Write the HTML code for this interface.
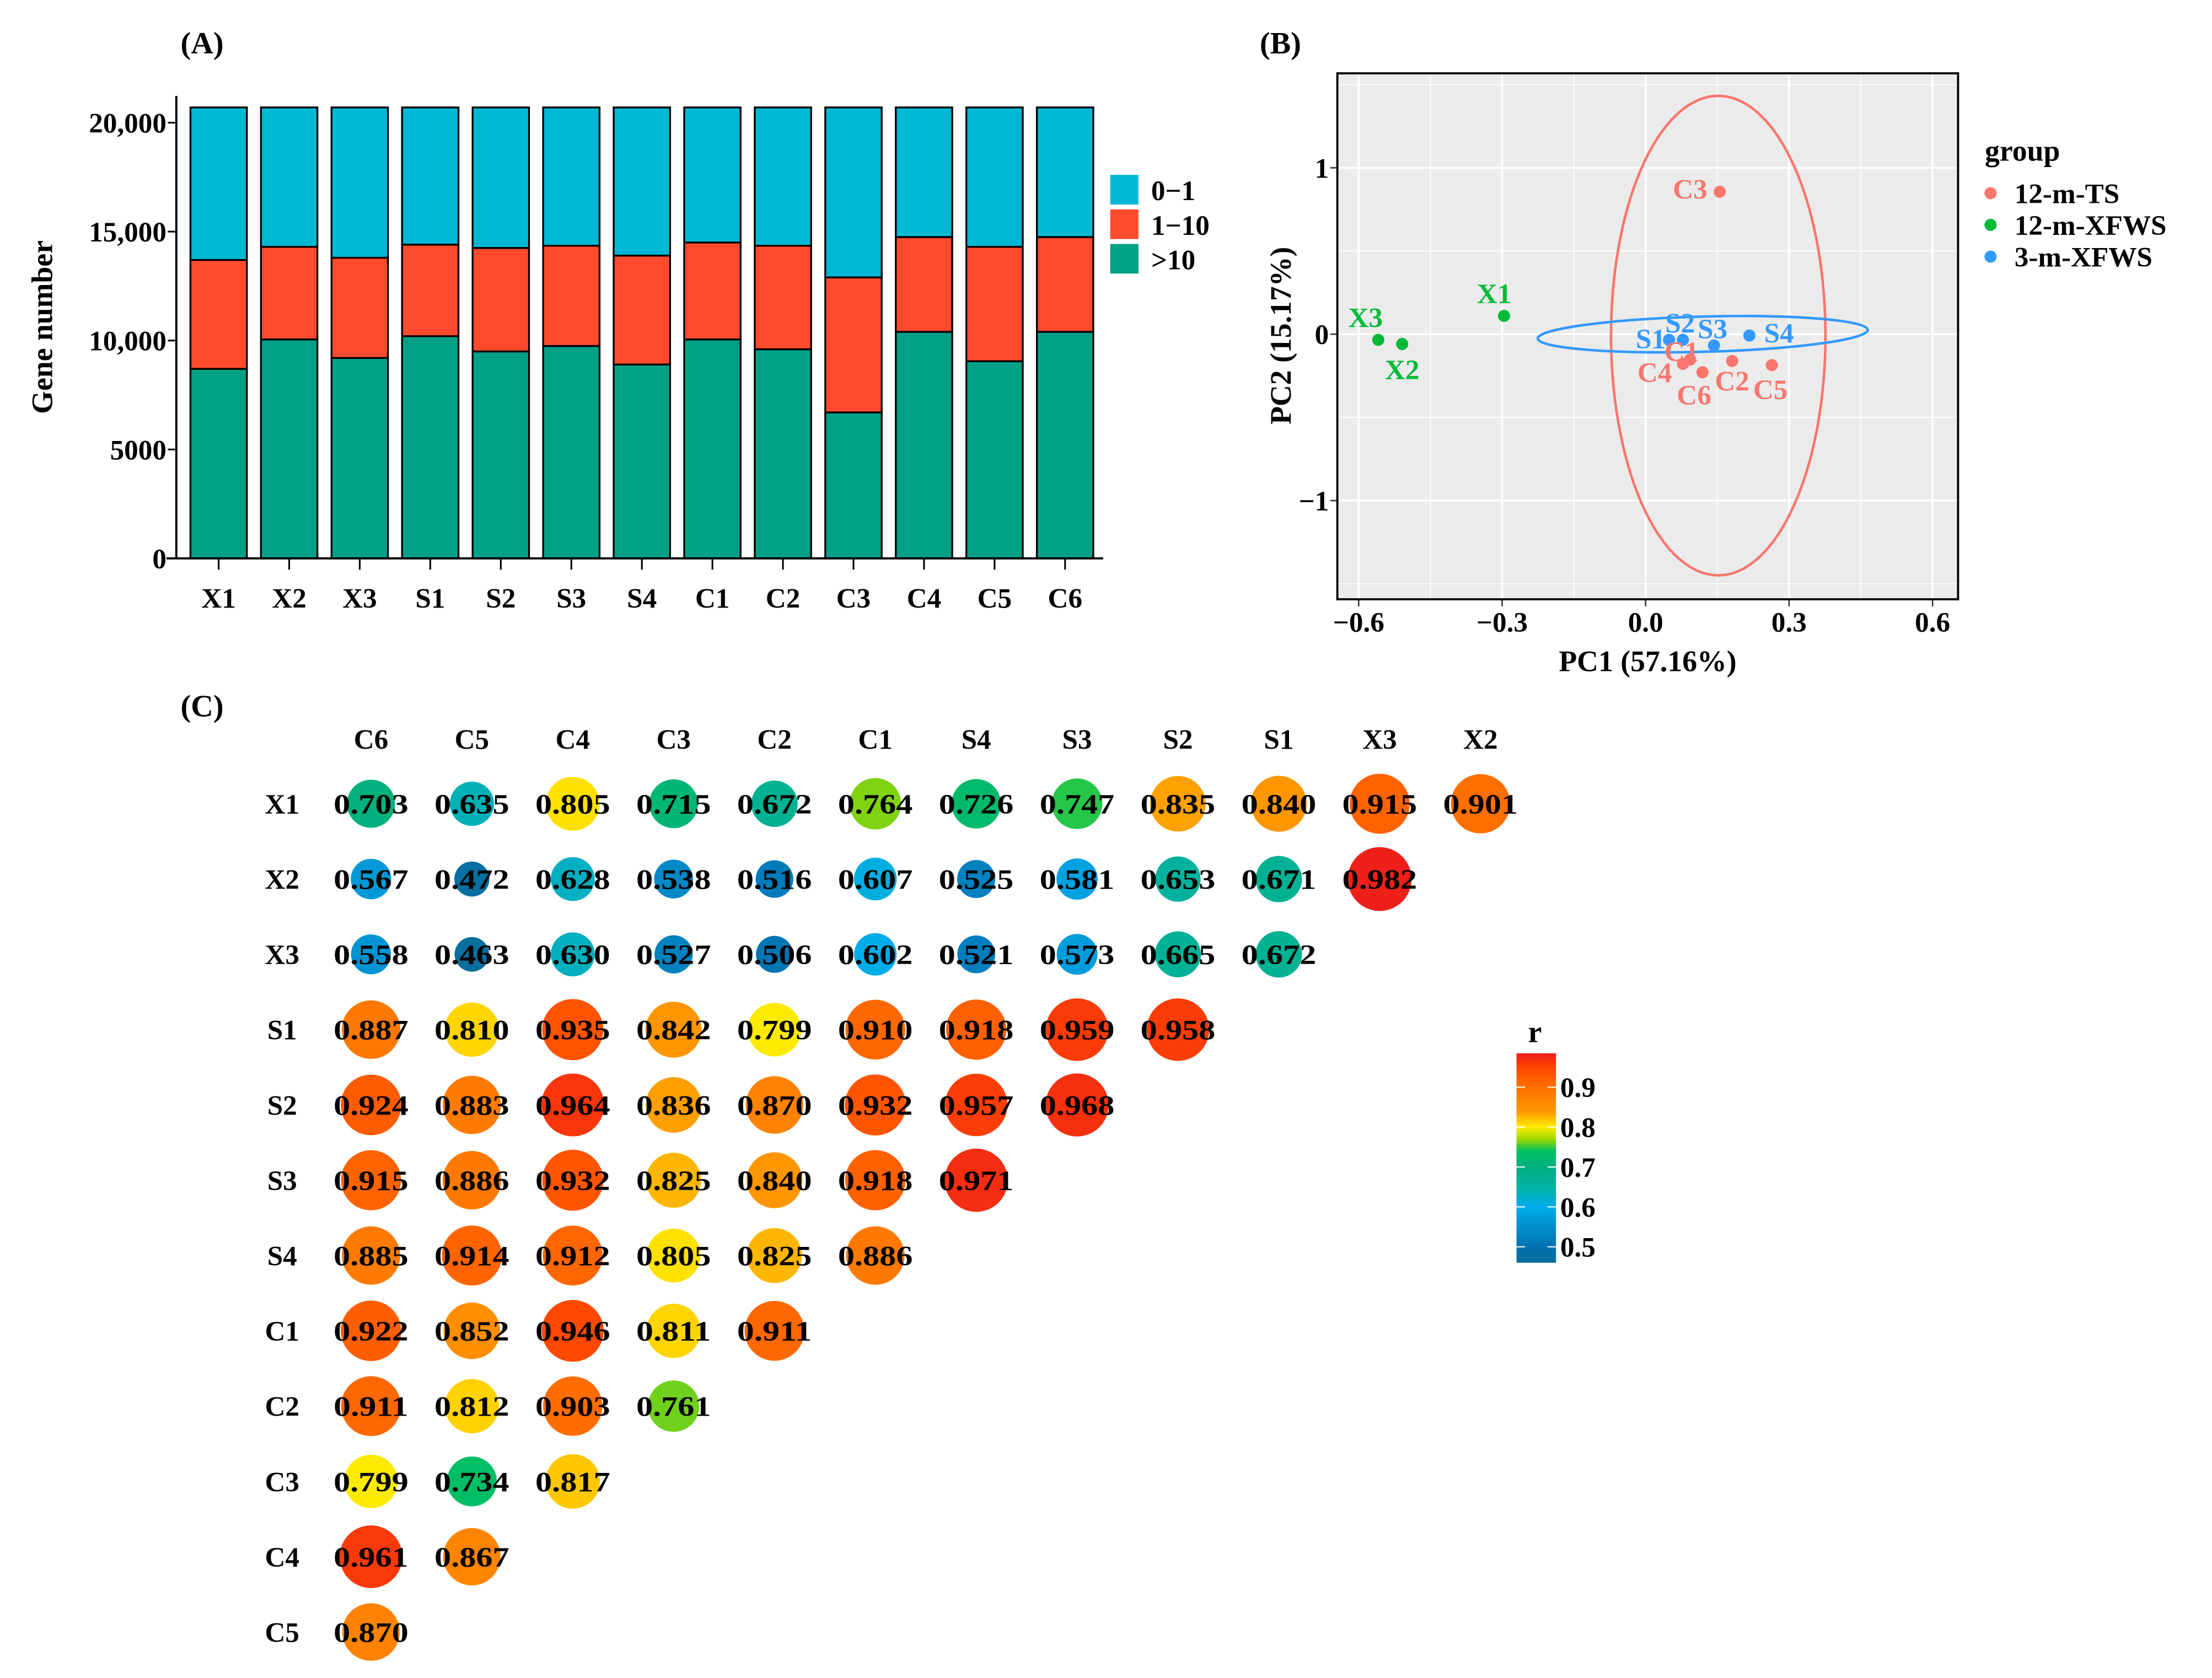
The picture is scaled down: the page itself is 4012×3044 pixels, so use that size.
<!DOCTYPE html>
<html><head><meta charset="utf-8"><style>
html,body{margin:0;padding:0;background:#fff}
svg{display:block}
text{font-family:"Liberation Serif","DejaVu Serif",serif;font-weight:700}
</style></head><body>
<svg id="fig" xmlns="http://www.w3.org/2000/svg" width="4012" height="3044" viewBox="0 0 1568 1190" preserveAspectRatio="none">
<g id="pa"></g>
<g id="pb"></g>
<g id="pc"></g>
</svg>
<script>
// ---------- Panel A data ----------
const samplesA = ["X1","X2","X3","S1","S2","S3","S4","C1","C2","C3","C4","C5","C6"];
const gt10 = [8700,10050,9200,10200,9500,9750,8900,10050,9600,6700,10400,9050,10400];
const mid = [5000,4250,4600,4200,4750,4600,5000,4450,4750,6200,4350,5250,4350];
const low = [7000,6400,6900,6300,6450,6350,6800,6200,6350,7800,5950,6400,5950];
const yTicksA = [0,5000,10000,15000,20000];
const yTickLabelsA = ["0","5000","10,000","15,000","20,000"];
const legendA = ["0\u22121","1\u221210",">10"];
// ---------- Panel B data ----------
const pcaNames = ["C3","X1","X3","X2","S1","S2","S3","S4","C1","C4","C6","C2","C5"];
const pc1 = [0.155,-0.296,-0.559,-0.509,0.049,0.078,0.143,0.217,0.093,0.078,0.119,0.181,0.264];
const pc2 = [0.856,0.11,-0.034,-0.059,-0.034,-0.034,-0.068,-0.008,-0.153,-0.178,-0.229,-0.161,-0.186];
const pcaGroup = [0,1,1,1,2,2,2,2,0,0,0,0,0];
const groupNames = ["12-m-TS","12-m-XFWS","3-m-XFWS"];
const xTicksB = [-0.6,-0.3,0.0,0.3,0.6];
const xTickLabelsB = ["\u22120.6","\u22120.3","0.0","0.3","0.6"];
const yTicksB = [-1,0,1];
const yTickLabelsB = ["\u22121","0","1"];
// ---------- Panel C data ----------
const colLabels = ["C6","C5","C4","C3","C2","C1","S4","S3","S2","S1","X3","X2"];
const rowLabels = ["X1","X2","X3","S1","S2","S3","S4","C1","C2","C3","C4","C5"];
const corrX1 = [0.703,0.635,0.805,0.715,0.672,0.764,0.726,0.747,0.835,0.840,0.915,0.901];
const corrX2 = [0.567,0.472,0.628,0.538,0.516,0.607,0.525,0.581,0.653,0.671,0.982];
const corrX3 = [0.558,0.463,0.630,0.527,0.506,0.602,0.521,0.573,0.665,0.672];
const corrS1 = [0.887,0.810,0.935,0.842,0.799,0.910,0.918,0.959,0.958];
const corrS2 = [0.924,0.883,0.964,0.836,0.870,0.932,0.957,0.968];
const corrS3 = [0.915,0.886,0.932,0.825,0.840,0.918,0.971];
const corrS4 = [0.885,0.914,0.912,0.805,0.825,0.886];
const corrC1 = [0.922,0.852,0.946,0.811,0.911];
const corrC2 = [0.911,0.812,0.903,0.761];
const corrC3 = [0.799,0.734,0.817];
const corrC4 = [0.961,0.867];
const corrC5 = [0.870];
const cbTicks = [0.5,0.6,0.7,0.8,0.9];

const NS="http://www.w3.org/2000/svg";
function mk(parent,tag,attrs,txt){const e=document.createElementNS(NS,tag);for(const k in attrs)e.setAttribute(k,attrs[k]);if(txt!==undefined)e.textContent=txt;parent.appendChild(e);return e;}

// ================= Panel A =================
const pa=document.getElementById('pa');
const yA=v=>396-v*(309/20000);
const xA=i=>155+i*50;
let t=mk(pa,'text',{x:128,y:38,'font-size':22},'(A)');


t=mk(pa,'text',{x:37,y:232,'font-size':21,'text-anchor':'middle',transform:'rotate(-90 37 232)'},'Gene number');


const stackCols=["#00a087","#ff4a2e","#00b8d4"];
samplesA.forEach((s,i)=>{
  const segs=[gt10[i],mid[i],low[i]];let base=0;
  segs.forEach((v,j)=>{
    const r=mk(pa,'rect',{x:xA(i)-20,y:yA(base+v),width:40,height:yA(base)-yA(base+v),fill:stackCols[j],stroke:'#000','stroke-width':1.3});
    
    
    base+=v;
  });
  mk(pa,'line',{x1:xA(i),x2:xA(i),y1:396,y2:404,stroke:'#000','stroke-width':1.2});
  const l=mk(pa,'text',{x:xA(i),y:431,'font-size':20,'text-anchor':'middle'},s);
  
  
});
let ax=mk(pa,'line',{x1:125,x2:125,y1:68,y2:396,stroke:'#000','stroke-width':1.5});


ax=mk(pa,'line',{x1:118,x2:782,y1:396,y2:396,stroke:'#000','stroke-width':1.5});


yTicksA.forEach((v,i)=>{
  mk(pa,'line',{x1:119,x2:125,y1:yA(v),y2:yA(v),stroke:'#000','stroke-width':1.2});
  const l=mk(pa,'text',{x:118,y:yA(v)+7,'font-size':20,'text-anchor':'end'},yTickLabelsA[i]);
  
  
});
legendA.forEach((n,i)=>{
  const c=[stackCols[2],stackCols[1],stackCols[0]][i];
  const r=mk(pa,'rect',{x:787,y:124+i*24.5,width:20,height:21,fill:c});
  
  
  const l=mk(pa,'text',{x:816,y:142+i*24.5,'font-size':20},n);
  
  
});

// ================= Panel B =================
const pb=document.getElementById('pb');
const xB=v=>1166.5+v*339;
const yB=v=>237-v*118;
t=mk(pb,'text',{x:893,y:38,'font-size':22},'(B)');


const bg=mk(pb,'rect',{x:948,y:52,width:440,height:373,fill:'#ebebeb'});


[-0.45,-0.15,0.15,0.45].forEach(v=>mk(pb,'line',{x1:xB(v),x2:xB(v),y1:52,y2:425,stroke:'#fff','stroke-width':0.7}));
[-1.5,-0.5,0.5,1.5].forEach(v=>mk(pb,'line',{x1:948,x2:1388,y1:yB(v),y2:yB(v),stroke:'#fff','stroke-width':0.7}));
xTicksB.forEach((v,i)=>{
  mk(pb,'line',{x1:xB(v),x2:xB(v),y1:52,y2:425,stroke:'#fff','stroke-width':1.4});
  mk(pb,'line',{x1:xB(v),x2:xB(v),y1:425,y2:430,stroke:'#333','stroke-width':1});
  const l=mk(pb,'text',{x:xB(v),y:448,'font-size':20,'text-anchor':'middle'},xTickLabelsB[i]);
  
  
});
yTicksB.forEach((v,i)=>{
  mk(pb,'line',{x1:948,x2:1388,y1:yB(v),y2:yB(v),stroke:'#fff','stroke-width':1.4});
  mk(pb,'line',{x1:943,x2:948,y1:yB(v),y2:yB(v),stroke:'#333','stroke-width':1});
  const l=mk(pb,'text',{x:942,y:yB(v)+7,'font-size':20,'text-anchor':'end'},yTickLabelsB[i]);
  
  
});
const grpCol=["#f8766d","#00ba38","#3399ff"];
let el=mk(pb,'ellipse',{cx:1218,cy:238,rx:76,ry:170,fill:'none',stroke:'#f8766d','stroke-width':1.8});


el=mk(pb,'ellipse',{cx:1207,cy:237,rx:117,ry:12.5,fill:'none',stroke:'#3399ff','stroke-width':1.8,transform:'rotate(-1.5 1207 237)'});


const lblOff={C3:[-21,5],X1:[-7,-9],X3:[-9,-9],X2:[0,25],S1:[-13,6],S2:[-2,-5],S3:[-1,-5],S4:[21,5],C1:[-6,1],C4:[-20,13],C6:[-6,23],C2:[0,21],C5:[-1,24]};
pcaNames.forEach((n,i)=>{
  const cx=xB(pc1[i]),cy=yB(pc2[i]);
  const c=mk(pb,'circle',{cx:cx,cy:cy,r:4.3,fill:grpCol[pcaGroup[i]]});
  
  
  const o=lblOff[n];
  const l=mk(pb,'text',{x:cx+o[0],y:cy+o[1],'font-size':20,'text-anchor':'middle',fill:grpCol[pcaGroup[i]]},n);
  
  
});
const frame=mk(pb,'rect',{x:948,y:52,width:440,height:373,fill:'none',stroke:'#000','stroke-width':1.5});


t=mk(pb,'text',{x:1168,y:476,'font-size':21,'text-anchor':'middle'},'PC1 (57.16%)');


t=mk(pb,'text',{x:915,y:238,'font-size':21,'text-anchor':'middle',transform:'rotate(-90 915 238)'},'PC2 (15.17%)');


t=mk(pb,'text',{x:1407,y:114,'font-size':21},'group');


groupNames.forEach((g,i)=>{
  mk(pb,'circle',{cx:1411,cy:137+i*22.5,r:4.3,fill:grpCol[i]});
  const l=mk(pb,'text',{x:1428,y:144+i*22.5,'font-size':20},g);
  
  
});

// ================= Panel C =================
const pc=document.getElementById('pc');
const corr=[corrX1,corrX2,corrX3,corrS1,corrS2,corrS3,corrS4,corrC1,corrC2,corrC3,corrC4,corrC5];
const xC=j=>263+j*71.5;
const yC=i=>570+i*53.4;
const stops=[[0.46,[10,110,154]],[0.5,[0,114,176]],[0.6,[0,172,236]],[0.65,[0,178,160]],[0.7,[0,176,128]],[0.74,[0,192,96]],[0.77,[160,216,0]],[0.8,[255,236,0]],[0.84,[255,150,0]],[0.9,[255,112,0]],[0.95,[255,70,0]],[0.985,[238,28,28]]];
function colr(v){
  if(v<=stops[0][0])return 'rgb('+stops[0][1]+')';
  for(let k=1;k<stops.length;k++){if(v<=stops[k][0]){const a=stops[k-1],b=stops[k];const f=(v-a[0])/(b[0]-a[0]);return 'rgb('+a[1].map((c,m)=>Math.round(c+(b[1][m]-c)*f)).join(',')+')';}}
  return 'rgb('+stops[stops.length-1][1]+')';
}
t=mk(pc,'text',{x:128,y:508,'font-size':22},'(C)');


colLabels.forEach((c,j)=>{
  const l=mk(pc,'text',{x:xC(j),y:531,'font-size':20,'text-anchor':'middle'},c);
  
  
});
rowLabels.forEach((r,i)=>{
  const l=mk(pc,'text',{x:200,y:yC(i)+7,'font-size':20,'text-anchor':'middle'},r);
  
  
  corr[i].forEach((v,j)=>{
    const c=mk(pc,'circle',{cx:xC(j),cy:yC(i),r:3+20*v,fill:colr(v)});
    
    
    const tx=mk(pc,'text',{x:xC(j),y:yC(i)+7,'font-size':20,'text-anchor':'middle',textLength:53,lengthAdjust:'spacingAndGlyphs'},v.toFixed(3));
    
    
  });
});
// colorbar
const cbY=v=>771-(v-0.9)*283;
const defs=mk(pc,'defs',{});
const grad=mk(defs,'linearGradient',{id:'cbg',x1:0,y1:1,x2:0,y2:0});
stops.forEach(s=>{const off=(cbY(0.46)-cbY(s[0]))/(cbY(0.46)-cbY(0.985));mk(grad,'stop',{offset:Math.max(0,Math.min(1,off)),'stop-color':'rgb('+s[1]+')'});});
const cb=mk(pc,'rect',{x:1075,y:cbY(0.985),width:28,height:cbY(0.46)-cbY(0.985),fill:'url(#cbg)'});


cbTicks.forEach(v=>{
  mk(pc,'line',{x1:1075,x2:1081,y1:cbY(v),y2:cbY(v),stroke:'#fff','stroke-width':0.8});
  mk(pc,'line',{x1:1097,x2:1103,y1:cbY(v),y2:cbY(v),stroke:'#fff','stroke-width':0.8});
  const l=mk(pc,'text',{x:1106,y:cbY(v)+7,'font-size':20},v.toFixed(1));
  
  
});
t=mk(pc,'text',{x:1088,y:739,'font-size':22,'text-anchor':'middle'},'r');


</script>
</body></html>
